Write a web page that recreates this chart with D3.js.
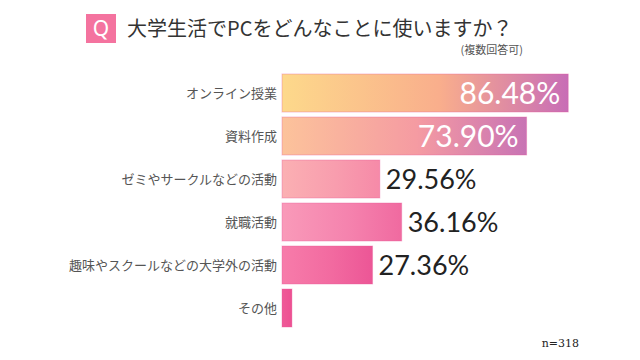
<!DOCTYPE html>
<html lang="ja">
<head>
<meta charset="utf-8">
<title>大学生活でPCをどんなことに使いますか？</title>
<script src="https://cdn.jsdelivr.net/npm/d3@7/dist/d3.min.js"></script>
<style>
  body { margin: 0; background: #fff; }
  svg { display: block; }
  .cat { font: 13px "Noto Sans CJK JP", sans-serif; fill: #555; }
  .val { font-family: Lato, "Open Sans", sans-serif; }
</style>
</head>
<body>
<script>
// data
var categories = ["オンライン授業", "資料作成", "ゼミやサークルなどの活動", "就職活動", "趣味やスクールなどの大学外の活動", "その他"];
var values = [86.48, 73.90, 29.56, 36.16, 27.36, 3.0];
var valueLabels = ["86.48%", "73.90%", "29.56%", "36.16%", "27.36%", ""];
var sampleNote = "n=318";

// left / middle / right colour of each bar's gradient
var barColors = [
  ["#fdd98b", "#f9ae8c", "#c86db6"],
  ["#fcc39b", "#f59ba2", "#c873b4"],
  ["#fbb0b3", "#f89dae", "#f68aa8"],
  ["#f99ab9", "#f583ae", "#f06aa0"],
  ["#f77caa", "#f26aa0", "#ec5696"],
  ["#ef5a98", "#ee5595", "#ec5092"]
];

var width = 640, height = 360;

var svg = d3.select("body").append("svg")
  .attr("width", width)
  .attr("height", height);

var defs = svg.append("defs");
barColors.forEach(function(c, i) {
  var g = defs.append("linearGradient")
    .attr("id", "grad" + i)
    .attr("x1", "0%").attr("x2", "100%").attr("y1", "0%").attr("y2", "0%");
  g.append("stop").attr("offset", "0%").attr("stop-color", c[0]);
  g.append("stop").attr("offset", "55%").attr("stop-color", c[1]);
  g.append("stop").attr("offset", "100%").attr("stop-color", c[2]);
});

// title
svg.append("rect")
  .attr("x", 86).attr("y", 14)
  .attr("width", 30).attr("height", 29)
  .attr("fill", "#f4739f");
svg.append("text")
  .attr("x", 101).attr("y", 28.5)
  .attr("dy", "0.36em")
  .attr("text-anchor", "middle")
  .style("font", "21px 'Noto Sans', sans-serif")
  .attr("fill", "#fff")
  .text("Q");
svg.append("text")
  .attr("x", 127).attr("y", 29)
  .attr("dy", "0.36em")
  .style("font", "20px 'Noto Sans CJK JP', sans-serif")
  .attr("fill", "#333")
  .text("大学生活でPCをどんなことに使いますか？");
svg.append("text")
  .attr("x", 523).attr("y", 50)
  .attr("dy", "0.36em")
  .attr("text-anchor", "end")
  .style("font", "11px 'Noto Sans CJK JP', sans-serif")
  .attr("fill", "#555")
  .text("(複数回答可)");

// scales
var x = d3.scaleLinear()
  .domain([0, 100])
  .range([282, 282 + 331]);

var y = d3.scaleBand()
  .domain(categories)
  .range([71.5, 329.5])
  .paddingInner(0.116)
  .paddingOuter(0.058);

var rows = svg.selectAll("g.row")
  .data(categories)
  .enter().append("g")
  .attr("class", "row");

rows.append("rect")
  .attr("x", x(0))
  .attr("y", function(d) { return y(d); })
  .attr("width", function(d, i) { return x(values[i]) - x(0); })
  .attr("height", y.bandwidth())
  .attr("fill", function(d, i) { return "url(#grad" + i + ")"; })
  .attr("stroke", "#e8589a")
  .attr("stroke-opacity", 0.35)
  .attr("stroke-width", 1);

rows.append("text")
  .attr("class", "cat")
  .attr("x", x(0) - 5)
  .attr("y", function(d) { return y(d) + y.bandwidth() / 2; })
  .attr("dy", "0.36em")
  .attr("text-anchor", "end")
  .text(function(d) { return d; });

rows.append("text")
  .attr("class", "val")
  .attr("x", function(d, i) { return values[i] > 50 ? x(values[i]) - 8 : x(values[i]) + 6; })
  .attr("y", function(d) { return y(d) + y.bandwidth() / 2; })
  .attr("dy", "0.36em")
  .attr("text-anchor", function(d, i) { return values[i] > 50 ? "end" : "start"; })
  .attr("fill", function(d, i) { return values[i] > 50 ? "#fff" : "#222"; })
  .style("font-size", function(d, i) { return values[i] > 50 ? "30px" : "27px"; })
  .text(function(d, i) { return valueLabels[i]; });

svg.append("text")
  .attr("x", 579).attr("y", 343)
  .attr("dy", "0.36em")
  .attr("text-anchor", "end")
  .style("font", "11px 'DejaVu Serif', serif")
  .attr("fill", "#222")
  .text(sampleNote);
</script>
</body>
</html>
